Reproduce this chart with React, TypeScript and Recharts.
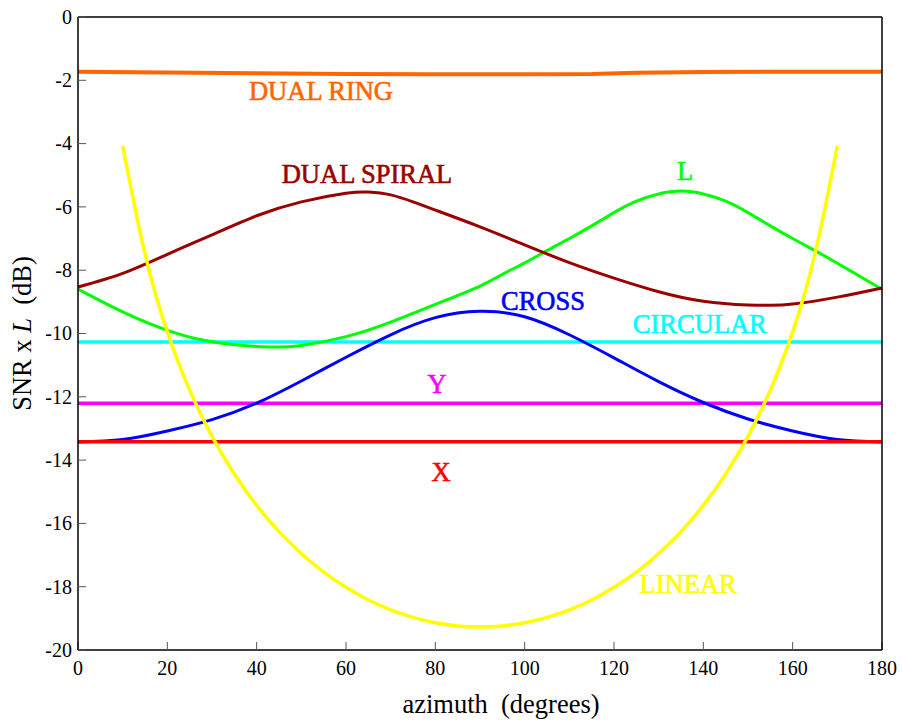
import React from 'react';
import { LineChart, Line, XAxis, YAxis, ReferenceDot } from 'recharts';

const FONT = '"Liberation Serif", "Times New Roman", Times, serif';

// axis ticks
const xTicks = [0, 20, 40, 60, 80, 100, 120, 140, 160, 180];
const yTicks = [0, -2, -4, -6, -8, -10, -12, -14, -16, -18, -20];

// DUAL RING (nearly flat)
const ringAz = [0, 20, 40, 60, 80, 100, 115, 125, 140, 160, 180];
const ringDb = [-1.73, -1.75, -1.78, -1.8, -1.81, -1.81, -1.8, -1.76, -1.74, -1.73, -1.73];

// DUAL SPIRAL
const spiralAz = [0, 10, 20, 30, 40, 50, 60, 65, 70, 75, 80, 90, 100, 110, 120, 130, 140, 150, 155, 160, 170, 180];
const spiralDb = [-8.53, -8.1, -7.5, -6.88, -6.28, -5.84, -5.57, -5.53, -5.62, -5.84, -6.1, -6.63, -7.2, -7.76, -8.25, -8.68, -8.98, -9.1, -9.11, -9.07, -8.85, -8.56];

// L
const lAz = [0, 10, 20, 30, 40, 45, 50, 60, 70, 80, 90, 95, 100, 105, 110, 115, 120, 125, 130, 135, 140, 145, 150, 155, 160, 165, 170, 175, 180];
const lDb = [-8.6, -9.32, -9.9, -10.26, -10.41, -10.43, -10.38, -10.1, -9.64, -9.08, -8.5, -8.13, -7.77, -7.38, -7.0, -6.6, -6.18, -5.82, -5.59, -5.5, -5.59, -5.82, -6.18, -6.6, -7.0, -7.38, -7.78, -8.19, -8.6];

// CROSS
const crossAz = [0, 10, 20, 30, 40, 50, 60, 70, 80, 90, 100, 110, 120, 130, 140, 150, 160, 170, 180];
const crossDb = [-13.43, -13.35, -13.08, -12.72, -12.2, -11.5, -10.75, -10.04, -9.5, -9.3, -9.47, -10.04, -10.77, -11.52, -12.18, -12.7, -13.08, -13.35, -13.43];

// LINEAR
const linAz = [10, 15, 20, 25, 30, 35, 40, 45, 50, 55, 60, 65, 70, 75, 80, 85, 90, 95, 100, 105, 110, 115, 120, 125, 130, 135, 140, 145, 150, 155, 160, 165, 170];
const linDb = [-4.07, -7.48, -9.95, -11.79, -13.25, -14.44, -15.43, -16.26, -16.95, -17.54, -18.02, -18.42, -18.73, -18.97, -19.14, -19.24, -19.27, -19.24, -19.14, -18.97, -18.73, -18.42, -18.02, -17.54, -16.95, -16.26, -15.43, -14.44, -13.25, -11.79, -9.95, -7.48, -4.07];

// flat references
const flatAz = [0, 180];
const circularDb = -10.27;
const yDb = -12.2;
const xDb = -13.42;

// in-plot curve names: text, azimuth, dB at baseline, colour
const labelText = ['DUAL RING', 'DUAL SPIRAL', 'L', 'CROSS', 'CIRCULAR', 'Y', 'X', 'LINEAR'];
const labelAz = [54.4, 64.7, 135.9, 104.1, 139.2, 80.4, 81.3, 136.6];
const labelDb = [-2.62, -5.24, -5.15, -9.26, -9.98, -11.88, -14.66, -18.2];
const labelColor = ['#FF6600', '#990000', '#00FF00', '#0000FF', '#00FFFF', '#FF00FF', '#FF0000', '#FFFF00'];

const pts = (az: number[], db: number[]) => az.map((x, i) => ({ x, y: db[i] }));
const flat = (v: number) => flatAz.map((x) => ({ x, y: v }));

const serif = { fontFamily: FONT };

const XTick = ({ x, y, payload }: any) => (
  <text x={x} y={y} dy="0.71em" textAnchor="middle" fontSize={20} fill="#000" style={serif}>
    {payload.value}
  </text>
);

const YTick = ({ x, y, payload }: any) => (
  <text x={x} y={y} dy="0.34em" textAnchor="end" fontSize={20} fill="#000" style={serif}>
    {payload.value}
  </text>
);

const XLabel = ({ viewBox }: any) => (
  <text
    x={viewBox.x + viewBox.width / 2 + 21}
    y={viewBox.y + 63}
    textAnchor="middle"
    fontSize={26.5}
    fill="#000"
    style={{ ...serif, whiteSpace: 'pre' }}
  >
    {'azimuth  (degrees)'}
  </text>
);

const YLabel = ({ viewBox }: any) => (
  <text
    transform={`translate(${viewBox.x - 46}, ${viewBox.y + viewBox.height / 2}) rotate(-90)`}
    textAnchor="middle"
    fontSize={26.5}
    fill="#000"
    style={{ ...serif, whiteSpace: 'pre' }}
  >
    {'SNR x '}
    <tspan fontStyle="italic">L</tspan>
    {'  (dB)'}
  </text>
);

export default function App() {
  const series = [
    { data: pts(ringAz, ringDb), color: '#FF6600', w: 4, type: 'linear' },
    { data: flat(circularDb), color: '#00FFFF', w: 3.5, type: 'linear' },
    { data: flat(yDb), color: '#FF00FF', w: 3.5, type: 'linear' },
    { data: pts(crossAz, crossDb), color: '#0000FF', w: 3, type: 'natural' },
    { data: flat(xDb), color: '#FF0000', w: 3.5, type: 'linear' },
    { data: pts(lAz, lDb), color: '#00FF00', w: 3, type: 'natural' },
    { data: pts(spiralAz, spiralDb), color: '#990000', w: 3, type: 'natural' },
    { data: pts(linAz, linDb), color: '#FFFF00', w: 3.5, type: 'natural' },
  ];

  const axisLine = { stroke: '#000', strokeWidth: 1.5 };
  const tickLine = { stroke: '#555', strokeWidth: 1 };

  return (
    <div style={{ position: 'absolute', left: 0, top: 0, width: 902, height: 726, background: '#fff', fontFamily: FONT }}>
      <LineChart width={902} height={726} margin={{ top: 16, right: 19, bottom: 75, left: 77 }} style={serif}>
        <XAxis
          xAxisId="b"
          type="number"
          dataKey="x"
          domain={[0, 180]}
          ticks={xTicks}
          interval={0}
          height={1}
          tickSize={-8}
          tickMargin={19}
          axisLine={axisLine}
          tickLine={tickLine}
          tick={<XTick />}
          label={<XLabel />}
        />
        <XAxis
          xAxisId="t"
          orientation="top"
          type="number"
          dataKey="x"
          domain={[0, 180]}
          ticks={xTicks}
          interval={0}
          height={1}
          tickSize={-8}
          axisLine={axisLine}
          tickLine={tickLine}
          tick={false}
        />
        <YAxis
          yAxisId="l"
          type="number"
          domain={[-20, 0]}
          ticks={yTicks}
          interval={0}
          width={1}
          tickSize={-8}
          tickMargin={14}
          axisLine={axisLine}
          tickLine={tickLine}
          tick={<YTick />}
          label={<YLabel />}
        />
        <YAxis
          yAxisId="r"
          orientation="right"
          type="number"
          domain={[-20, 0]}
          ticks={yTicks}
          interval={0}
          width={1}
          tickSize={-8}
          axisLine={axisLine}
          tickLine={tickLine}
          tick={false}
        />

        {series.map((s, i) => (
          <Line
            key={i}
            xAxisId="b"
            yAxisId="l"
            data={s.data}
            dataKey="y"
            type={s.type as any}
            stroke={s.color}
            strokeWidth={s.w}
            dot={false}
            activeDot={false}
            isAnimationActive={false}
          />
        ))}

        {labelText.map((t, i) => (
          <ReferenceDot
            key={t}
            xAxisId="b"
            yAxisId="l"
            x={labelAz[i]}
            y={labelDb[i]}
            r={0}
            ifOverflow="visible"
            shape={(p: any) => (
              <text
                x={p.cx}
                y={p.cy}
                textAnchor="middle"
                fontSize={26.5}
                fill={labelColor[i]}
                stroke={labelColor[i]}
                strokeWidth={0.6}
                style={serif}
              >
                {t}
              </text>
            )}
          />
        ))}
      </LineChart>
    </div>
  );
}
